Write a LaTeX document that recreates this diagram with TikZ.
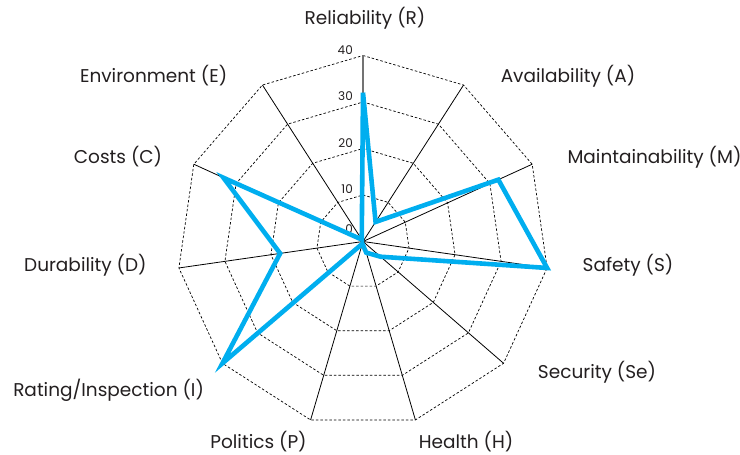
\documentclass[tikz,border=0pt]{standalone}
\usepackage{fontspec}
\setmainfont{Poppins}
\definecolor{sky}{RGB}{0,174,239}
\definecolor{ink}{RGB}{35,31,32}
\begin{document}
\begin{tikzpicture}[x=1pt,y=1pt,
  gridline/.style={dash pattern=on 2.5pt off 2pt, line width=0.7pt, black},
  axisline/.style={line width=0.8pt, black},
  raxis/.style={line width=1.6pt, black!55},
  lbl/.style={font=\fontsize{18.5}{20}\selectfont, inner sep=0pt, text=ink},
  tick/.style={font=\fontsize{12}{13}\selectfont, inner sep=0pt, anchor=south east, text=ink},
  series/.style={line width=4.6pt, draw=sky, line join=miter, miter limit=10}]
\useasboundingbox (0,0) rectangle (740,455);
\coordinate (O) at (363,213.5);
% outer vertices
\foreach \k in {0,...,10} {
  \coordinate (v\k) at ([shift={({90-\k*360/11}:186)}]O);
}
% dashed grid polygons
\foreach \r in {46.5,93,139.5,186} {
  \draw[gridline] ([shift={(90:\r)}]O)
    \foreach \k in {1,...,10} { -- ([shift={({90-\k*360/11}:\r)}]O) } -- cycle;
}
% axes
\foreach \k in {1,...,10} { \draw[axisline] (O) -- (v\k); }
\draw[raxis] (O) -- (v0);
% tick labels
\node[tick] (t0) at ([shift={(-10,8)}]O) {0};
\node[tick] (t10) at ([shift={(-10,47.5)}]O) {10};
\node[tick] (t20) at ([shift={(-10,94)}]O) {20};
\node[tick] (t30) at ([shift={(-10,140.5)}]O) {30};
\node[tick] (t40) at ([shift={(-10,187)}]O) {40};
% data points
\foreach \k/\v in {0/32,1/5,2/32,3/40,4/5,5/2.5,6/0.5,7/40,8/18,9/33,10/0.5} {
  \coordinate (p\k) at ([shift={({90-\k*360/11}:{\v*4.65})}]O);
}
\draw[series] (p0) -- (p1) -- (p2) -- (p3) -- (p4) -- (p5) -- (p6) -- (p7) -- (p8) -- (p9) -- (p10) -- cycle;
% axis labels
\node[lbl] (lR) at (365,437) {Reliability (R)};
\node[lbl] (lA) at (568,379) {Availability (A)};
\node[lbl] (lM) at (654.5,298) {Maintainability (M)};
\node[lbl] (lS) at (628,190) {Safety (S)};
\node[lbl] (lSe) at (597,83) {Security (Se)};
\node[lbl] (lH) at (466,13) {Health (H)};
\node[lbl] (lP) at (258.5,13) {Politics (P)};
\node[lbl] (lI) at (108.6,65) {Rating/Inspection (I)};
\node[lbl] (lD) at (85.4,190) {Durability (D)};
\node[lbl] (lC) at (118,298) {Costs (C)};
\node[lbl] (lE) at (153.6,379) {Environment (E)};
\end{tikzpicture}
\end{document}
